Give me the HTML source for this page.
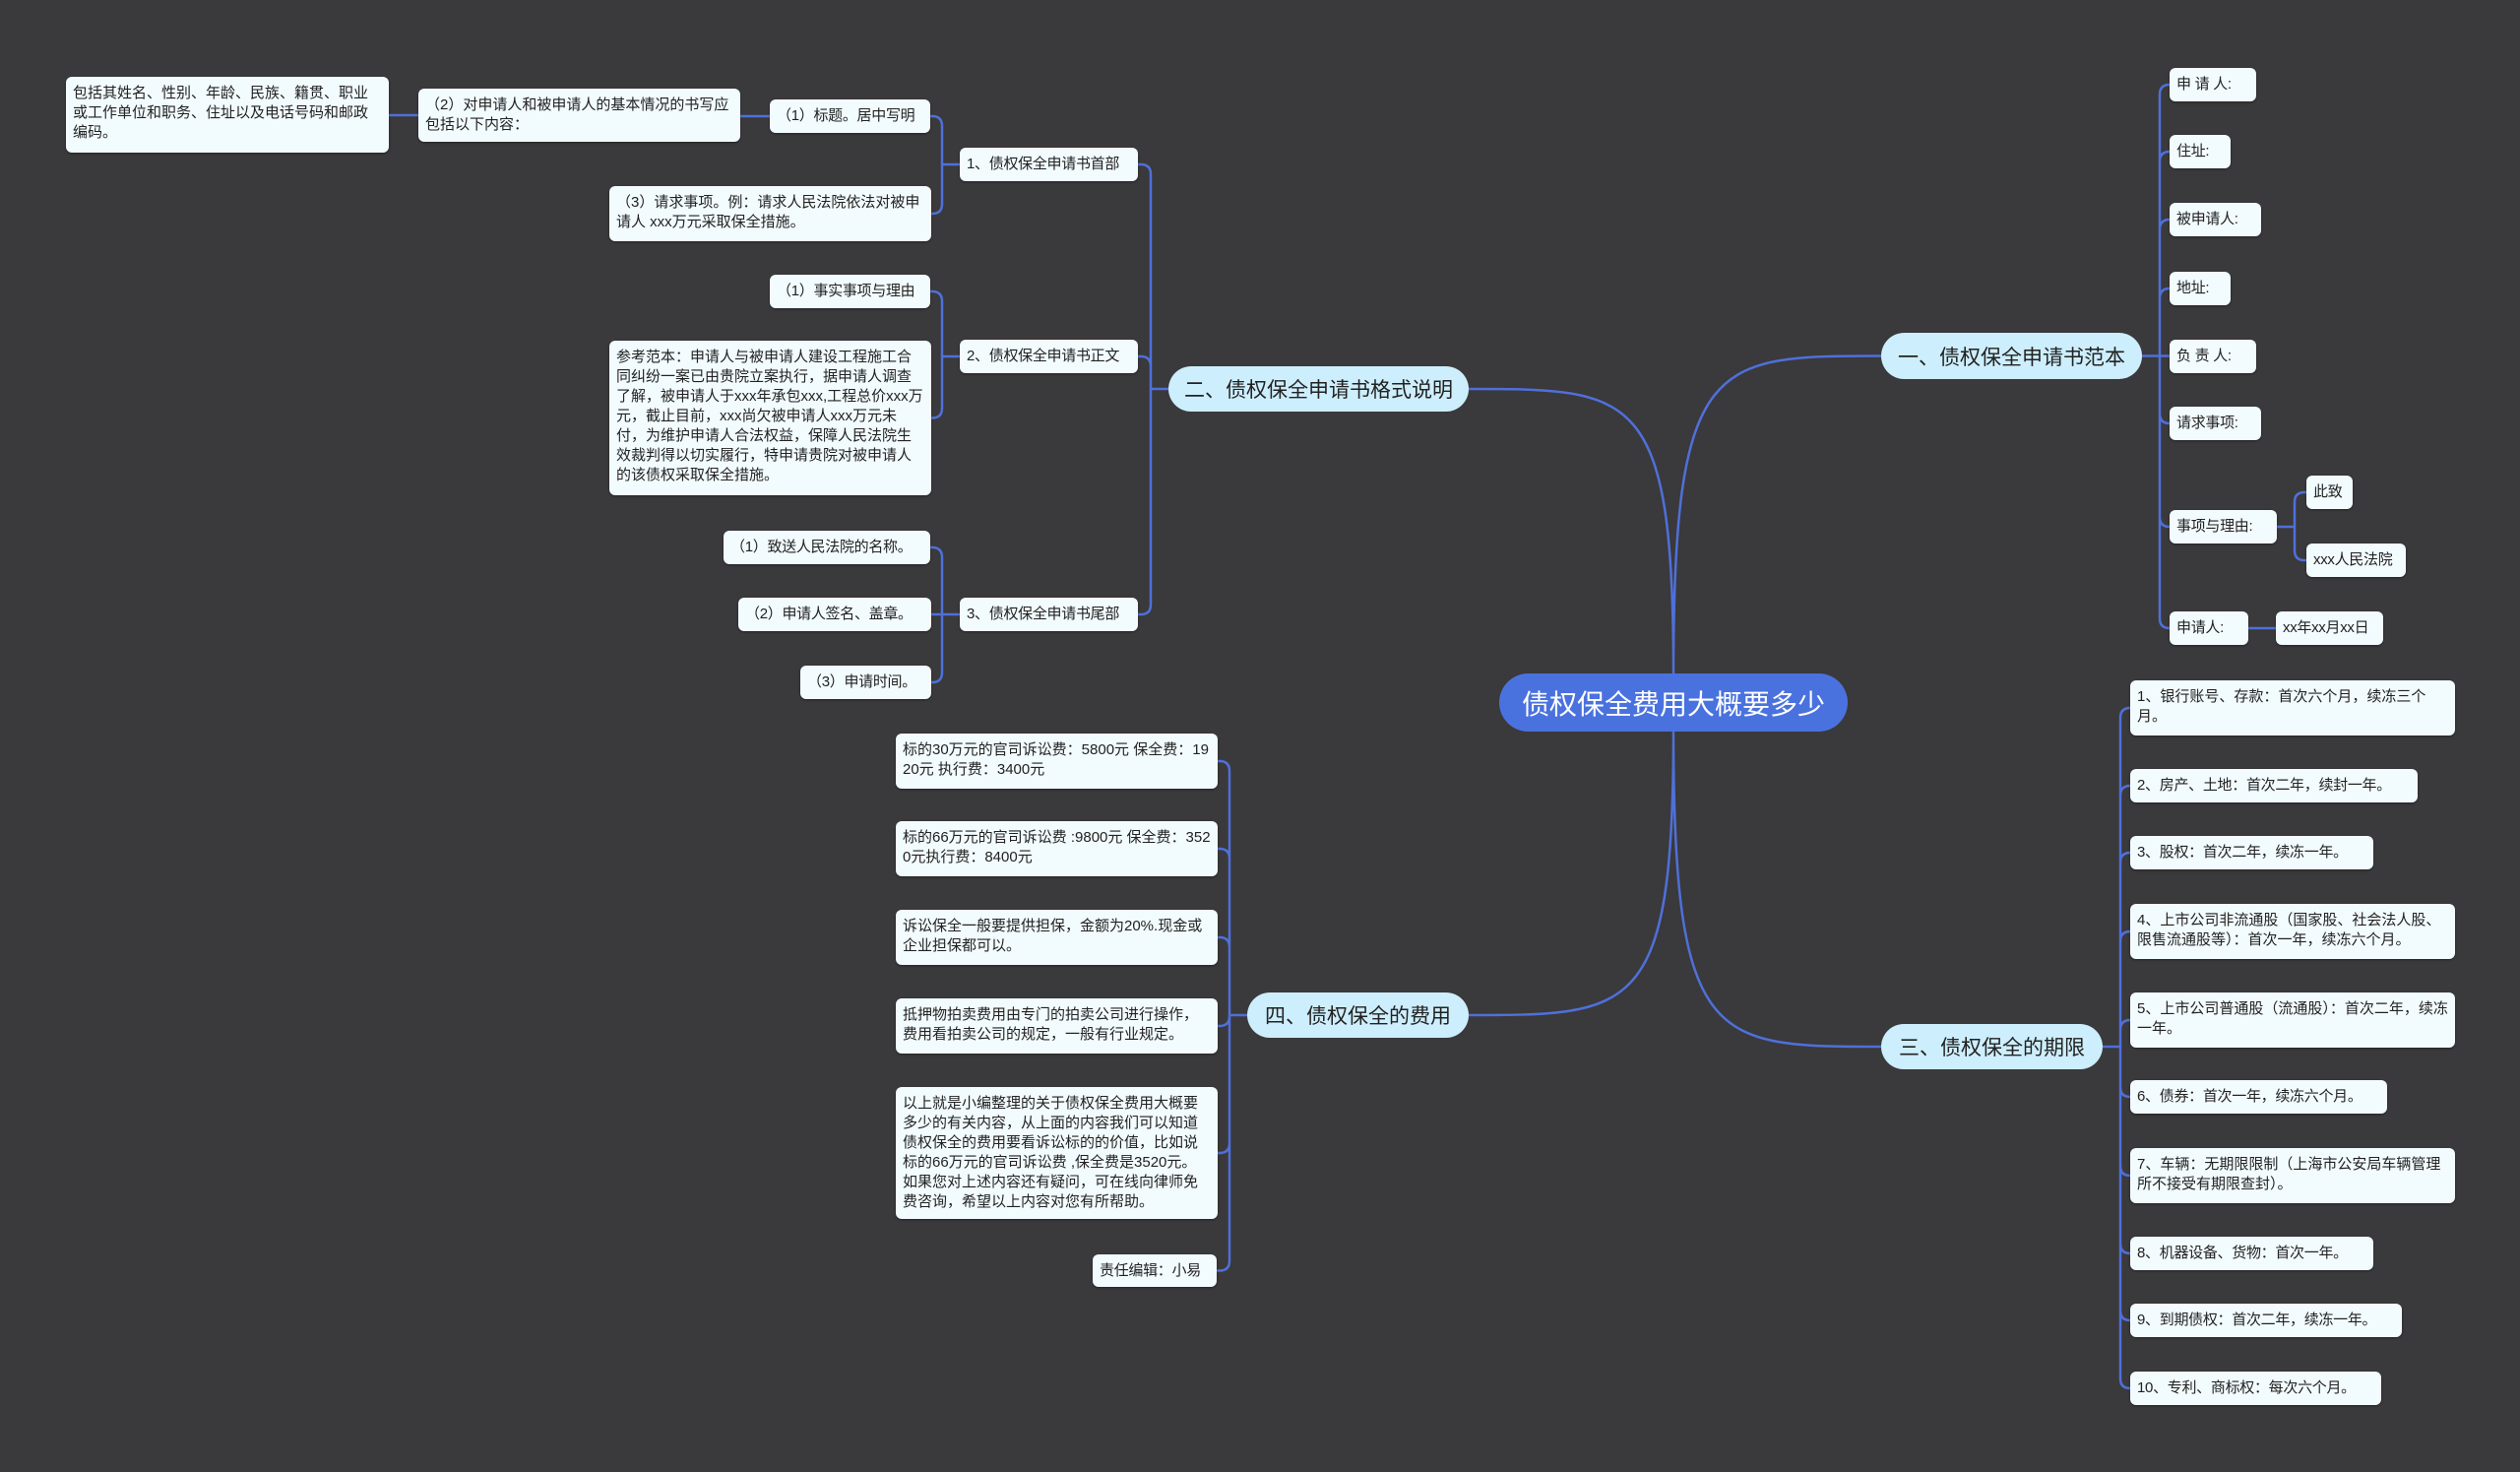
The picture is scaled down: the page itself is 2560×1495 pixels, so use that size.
<!DOCTYPE html>
<html><head><meta charset="utf-8">
<style>
body{margin:0;width:2560px;height:1495px;background:#3a393b;overflow:hidden;position:relative;font-family:"Liberation Sans","Noto Sans CJK SC",sans-serif}
.n{position:absolute;box-sizing:border-box;background:#f2fbfe;color:#222;font-size:15px;line-height:20px;border-radius:6px;padding:7px 7px;white-space:pre-wrap;word-break:break-all;box-shadow:0 1px 2px rgba(0,0,0,.4)}
.s{display:flex;align-items:center;white-space:nowrap;padding:0 7px;letter-spacing:-0.3px}
.m{position:absolute;box-sizing:border-box;background:#cdeefc;color:#222;font-size:21px;border-radius:24px;display:flex;align-items:center;justify-content:center;white-space:nowrap}
.c{position:absolute;box-sizing:border-box;background:#4a72df;color:#fff;font-size:28px;border-radius:30px;display:flex;align-items:center;justify-content:center}
svg{position:absolute;left:0;top:0}
</style></head><body>
<svg id="sv" width="2560" height="1495"></svg>
<div class="c" id="C" style="left:1523px;top:684px;width:354px;height:59px">债权保全费用大概要多少</div>
<div class="m" id="M2" style="left:1187px;top:372px;width:305px;height:46px">二、债权保全申请书格式说明</div>
<div class="m" id="M1" style="left:1911px;top:338px;width:265px;height:47px">一、债权保全申请书范本</div>
<div class="m" id="M4" style="left:1267px;top:1008px;width:225px;height:46px">四、债权保全的费用</div>
<div class="m" id="M3" style="left:1911px;top:1040px;width:225px;height:46px">三、债权保全的期限</div>

<div class="n s" id="r1" style="left:2204px;top:69px;width:88px;height:34px">申 请 人:</div>
<div class="n s" id="r2" style="left:2204px;top:137px;width:62px;height:34px">住址:</div>
<div class="n s" id="r3" style="left:2204px;top:206px;width:93px;height:34px">被申请人:</div>
<div class="n s" id="r4" style="left:2204px;top:276px;width:62px;height:34px">地址:</div>
<div class="n s" id="r5" style="left:2204px;top:345px;width:88px;height:34px">负 责 人:</div>
<div class="n s" id="r6" style="left:2204px;top:413px;width:93px;height:34px">请求事项:</div>
<div class="n s" id="r7" style="left:2204px;top:518px;width:109px;height:34px">事项与理由:</div>
<div class="n s" id="r7a" style="left:2343px;top:483px;width:47px;height:34px">此致</div>
<div class="n s" id="r7b" style="left:2343px;top:552px;width:101px;height:34px">xxx人民法院</div>
<div class="n s" id="r8" style="left:2204px;top:621px;width:80px;height:34px">申请人:</div>
<div class="n s" id="r8a" style="left:2312px;top:621px;width:109px;height:34px">xx年xx月xx日</div>

<div class="n" id="t1" style="left:2164px;top:691px;width:330px;height:56px">1、银行账号、存款：首次六个月，续冻三个月。</div>
<div class="n s" id="t2" style="left:2164px;top:781px;width:292px;height:34px">2、房产、土地：首次二年，续封一年。</div>
<div class="n s" id="t3" style="left:2164px;top:849px;width:247px;height:34px">3、股权：首次二年，续冻一年。</div>
<div class="n" id="t4" style="left:2164px;top:918px;width:330px;height:56px">4、上市公司非流通股（国家股、社会法人股、限售流通股等）：首次一年，续冻六个月。</div>
<div class="n" id="t5" style="left:2164px;top:1008px;width:330px;height:56px">5、上市公司普通股（流通股）：首次二年，续冻一年。</div>
<div class="n s" id="t6" style="left:2164px;top:1097px;width:261px;height:34px">6、债券：首次一年，续冻六个月。</div>
<div class="n" id="t7" style="left:2164px;top:1166px;width:330px;height:56px">7、车辆：无期限限制（上海市公安局车辆管理所不接受有期限查封）。</div>
<div class="n s" id="t8" style="left:2164px;top:1256px;width:247px;height:34px">8、机器设备、货物：首次一年。</div>
<div class="n s" id="t9" style="left:2164px;top:1324px;width:276px;height:34px">9、到期债权：首次二年，续冻一年。</div>
<div class="n s" id="t10" style="left:2164px;top:1393px;width:255px;height:34px">10、专利、商标权：每次六个月。</div>

<div class="n s" id="a1" style="left:975px;top:150px;width:181px;height:34px">1、债权保全申请书首部</div>
<div class="n s" id="a2" style="left:975px;top:345px;width:181px;height:34px">2、债权保全申请书正文</div>
<div class="n s" id="a3" style="left:975px;top:607px;width:181px;height:34px">3、债权保全申请书尾部</div>
<div class="n s" id="a11" style="left:782px;top:101px;width:163px;height:34px">（1）标题。居中写明</div>
<div class="n" id="a111" style="left:425px;top:90px;width:327px;height:54px">（2）对申请人和被申请人的基本情况的书写应包括以下内容：</div>
<div class="n" id="a1111" style="left:67px;top:78px;width:328px;height:77px">包括其姓名、性别、年龄、民族、籍贯、职业或工作单位和职务、住址以及电话号码和邮政编码。</div>
<div class="n" id="a12" style="left:619px;top:189px;width:327px;height:56px">（3）请求事项。例：请求人民法院依法对被申请人 xxx万元采取保全措施。</div>
<div class="n s" id="a21" style="left:782px;top:279px;width:163px;height:34px">（1）事实事项与理由</div>
<div class="n" id="a22" style="left:619px;top:346px;width:327px;height:157px">参考范本：申请人与被申请人建设工程施工合同纠纷一案已由贵院立案执行，据申请人调查了解，被申请人于xxx年承包xxx,工程总价xxx万元，截止目前，xxx尚欠被申请人xxx万元未付，为维护申请人合法权益，保障人民法院生效裁判得以切实履行，特申请贵院对被申请人的该债权采取保全措施。</div>
<div class="n s" id="a31" style="left:735px;top:539px;width:210px;height:34px">（1）致送人民法院的名称。</div>
<div class="n s" id="a32" style="left:750px;top:607px;width:196px;height:34px">（2）申请人签名、盖章。</div>
<div class="n s" id="a33" style="left:813px;top:676px;width:133px;height:34px">（3）申请时间。</div>

<div class="n" id="f1" style="left:910px;top:745px;width:327px;height:56px">标的30万元的官司诉讼费：5800元 保全费：1920元 执行费：3400元</div>
<div class="n" id="f2" style="left:910px;top:834px;width:327px;height:56px">标的66万元的官司诉讼费 :9800元 保全费：3520元执行费：8400元</div>
<div class="n" id="f3" style="left:910px;top:924px;width:327px;height:56px">诉讼保全一般要提供担保，金额为20%.现金或企业担保都可以。</div>
<div class="n" id="f4" style="left:910px;top:1014px;width:327px;height:56px">抵押物拍卖费用由专门的拍卖公司进行操作，费用看拍卖公司的规定，一般有行业规定。</div>
<div class="n" id="f5" style="left:910px;top:1104px;width:327px;height:134px">以上就是小编整理的关于债权保全费用大概要多少的有关内容，从上面的内容我们可以知道债权保全的费用要看诉讼标的的价值，比如说标的66万元的官司诉讼费 ,保全费是3520元。如果您对上述内容还有疑问，可在线向律师免费咨询，希望以上内容对您有所帮助。</div>
<div class="n s" id="f6" style="left:1110px;top:1274px;width:126px;height:33px">责任编辑：小易</div>

<script>
var sv=document.getElementById('sv'),P=[];
function b(id){var e=document.getElementById(id);return{l:e.offsetLeft,t:e.offsetTop,r:e.offsetLeft+e.offsetWidth,m:e.offsetTop+e.offsetHeight/2};}
function tree(p,kids,dir){var a=b(p);var px=dir>0?a.r:a.l,py=a.m,sx=px+dir*18;
kids.forEach(function(k){var c=b(k),cx=dir>0?c.l:c.r,cy=c.m,r=Math.min(10,Math.abs(cy-py));
var sg=cy>py?1:-1;
if(Math.abs(cy-py)<2){P.push('M'+px+' '+py+'H'+cx);return;}
P.push('M'+px+' '+py+'H'+sx+'V'+(cy-sg*r)+'Q'+sx+' '+cy+' '+(sx+dir*r)+' '+cy+'H'+cx);});}
[['M2',-1,684],['M1',1,684],['M4',-1,743],['M3',1,743]].forEach(function(x){var m=b(x[0]),tx=x[1]>0?m.l:m.r,ty=m.m;
P.push('M1700 '+x[2]+'C1700 '+ty+' '+(1700+x[1]*40)+' '+ty+' '+tx+' '+ty);});
tree('M1',['r1','r2','r3','r4','r5','r6','r7','r8'],1);
tree('r7',['r7a','r7b'],1);tree('r8',['r8a'],1);
tree('M3',['t1','t2','t3','t4','t5','t6','t7','t8','t9','t10'],1);
tree('M2',['a1','a2','a3'],-1);
tree('a1',['a11','a12'],-1);tree('a11',['a111'],-1);tree('a111',['a1111'],-1);
tree('a2',['a21','a22'],-1);tree('a3',['a31','a32','a33'],-1);
tree('M4',['f1','f2','f3','f4','f5','f6'],-1);
sv.innerHTML='<path d="'+P.join(' ')+'" fill="none" stroke="#4f70d9" stroke-width="2.5"/>';
</script>
</body></html>
